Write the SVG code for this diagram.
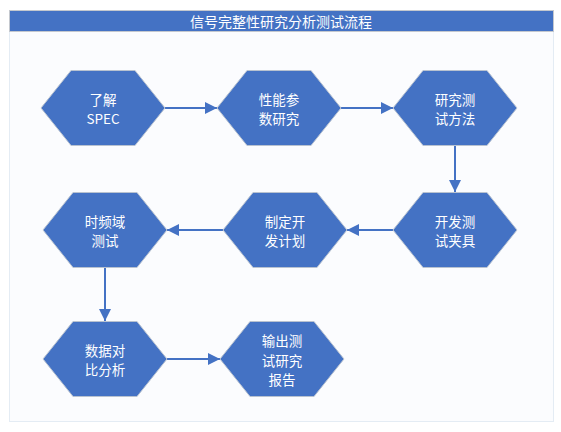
<svg xmlns="http://www.w3.org/2000/svg" width="561" height="432" viewBox="0 0 561 432">
<defs>
<style>
.hex{fill:#4472C4;stroke:#B8C2D0;stroke-width:1}
.t{fill:#FFFFFF;font-family:"Noto Sans CJK SC","Noto Sans",sans-serif;font-size:13.5px;text-anchor:middle;dominant-baseline:central}
.c{stroke:#4472C4;stroke-width:2;fill:none;marker-end:url(#ah)}
</style>
<marker id="ah" viewBox="0 0 12 12" refX="12" refY="6" markerWidth="12" markerHeight="12" markerUnits="userSpaceOnUse" orient="auto">
<path d="M0,0 L12,6 L0,12 Z" fill="#4472C4"/>
</marker>
</defs>
<rect x="9.5" y="10.5" width="544" height="411" fill="#FBFCFE" stroke="#E4ECF4" stroke-width="1"/>
<g id="title">
<rect x="9.5" y="10.5" width="544" height="21" fill="#4472C4" stroke="#C4C8CE" stroke-width="1"/>
<text class="t" x="281" y="21" style="font-size:14px">信号完整性研究分析测试流程</text>
</g>
<g id="connectors">
<line class="c" x1="165" y1="108" x2="217" y2="108"/>
<line class="c" x1="341" y1="108" x2="393" y2="108"/>
<line class="c" x1="455" y1="146" x2="455" y2="192"/>
<line class="c" x1="393" y1="230" x2="347" y2="230"/>
<line class="c" x1="223" y1="230" x2="167" y2="230"/>
<line class="c" x1="105" y1="268" x2="105" y2="321"/>
<line class="c" x1="167" y1="359" x2="220" y2="359"/>
</g>
<g id="n1">
<polygon class="hex" points="41,108 71,70.5 135,70.5 165,108 135,145.5 71,145.5"/>
<text class="t" x="103" y="98.5">了解</text>
<text class="t" x="103" y="118">SPEC</text>
</g>
<g id="n2">
<polygon class="hex" points="217,108 247,70.5 311,70.5 341,108 311,145.5 247,145.5"/>
<text class="t" x="279" y="98.5">性能参</text>
<text class="t" x="279" y="118">数研究</text>
</g>
<g id="n3">
<polygon class="hex" points="393,108 423,70.5 487,70.5 517,108 487,145.5 423,145.5"/>
<text class="t" x="455" y="98.5">研究测</text>
<text class="t" x="455" y="118">试方法</text>
</g>
<g id="n4">
<polygon class="hex" points="393,230 423,192.5 487,192.5 517,230 487,267.5 423,267.5"/>
<text class="t" x="455" y="220.5">开发测</text>
<text class="t" x="455" y="240">试夹具</text>
</g>
<g id="n5">
<polygon class="hex" points="223,230 253,192.5 317,192.5 347,230 317,267.5 253,267.5"/>
<text class="t" x="285" y="220.5">制定开</text>
<text class="t" x="285" y="240">发计划</text>
</g>
<g id="n6">
<polygon class="hex" points="43,230 73,192.5 137,192.5 167,230 137,267.5 73,267.5"/>
<text class="t" x="105" y="220.5">时频域</text>
<text class="t" x="105" y="240">测试</text>
</g>
<g id="n7">
<polygon class="hex" points="43,359 73,321.5 137,321.5 167,359 137,396.5 73,396.5"/>
<text class="t" x="105" y="349.5">数据对</text>
<text class="t" x="105" y="369">比分析</text>
</g>
<g id="n8">
<polygon class="hex" points="220,359 250,321.5 314,321.5 344,359 314,396.5 250,396.5"/>
<text class="t" x="282" y="340">输出测</text>
<text class="t" x="282" y="359.5">试研究</text>
<text class="t" x="282" y="379">报告</text>
</g>
</svg>
